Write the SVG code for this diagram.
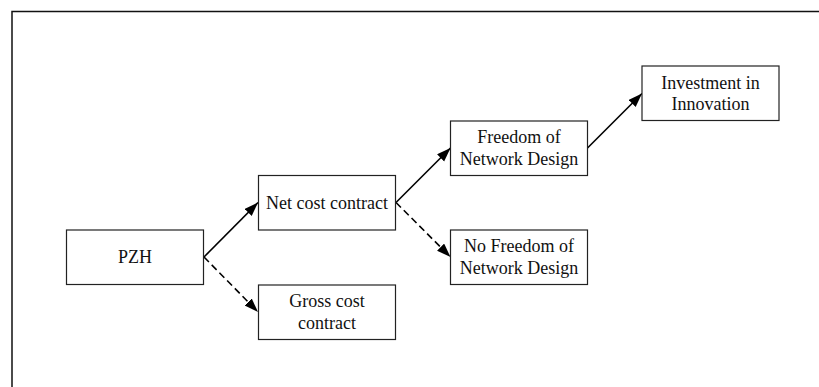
<svg xmlns="http://www.w3.org/2000/svg" width="819" height="387" viewBox="0 0 819 387">
  <style>
    .box { fill: #ffffff; stroke: #222222; stroke-width: 1.2; }
    .lbl { font-family: "Liberation Serif", "Times New Roman", serif; font-size: 18px; fill: #111111; text-anchor: middle; }
    .edge { fill: none; stroke: #000000; stroke-width: 1.6; }
    .dash { stroke-dasharray: 7 4; }
    .frame { fill: none; stroke: #111111; stroke-width: 1.5; }
  </style>
  <defs>
    <marker id="arrow" markerUnits="userSpaceOnUse" markerWidth="15" markerHeight="11" refX="14" refY="5" orient="auto">
      <path d="M0,0 L14,5 L0,10 z" fill="#000000"/>
    </marker>
  </defs>

  <rect width="819" height="387" fill="#ffffff"/>
  <!-- outer frame: top and left edges -->
  <path class="frame" d="M12,387 V11.5 H819"/>

  <g id="connectors">
    <line class="edge" x1="204" y1="257" x2="258" y2="202.5" marker-end="url(#arrow)"/>
    <line class="edge dash" x1="204" y1="257" x2="258" y2="312" marker-end="url(#arrow)"/>
    <line class="edge" x1="396" y1="202.5" x2="450.5" y2="148" marker-end="url(#arrow)"/>
    <line class="edge dash" x1="396" y1="202.5" x2="450.5" y2="257" marker-end="url(#arrow)"/>
    <line class="edge" x1="587.5" y1="148" x2="642" y2="93.5" marker-end="url(#arrow)"/>
  </g>

  <g id="pzh">
    <rect class="box" x="66.5" y="230" width="137" height="54.5"/>
    <text class="lbl" x="135" y="263">PZH</text>
  </g>

  <g id="net-cost">
    <rect class="box" x="258.5" y="175.5" width="137" height="54.5"/>
    <text class="lbl" x="327" y="208.5">Net cost contract</text>
  </g>

  <g id="gross-cost">
    <rect class="box" x="258.5" y="285" width="137" height="54.5"/>
    <text class="lbl" x="327" y="307">Gross cost</text>
    <text class="lbl" x="327" y="328.5">contract</text>
  </g>

  <g id="freedom">
    <rect class="box" x="450.5" y="121" width="137" height="54.5"/>
    <text class="lbl" x="519" y="143.3">Freedom of</text>
    <text class="lbl" x="519" y="164.8">Network Design</text>
  </g>

  <g id="no-freedom">
    <rect class="box" x="450.5" y="230" width="137" height="54.5"/>
    <text class="lbl" x="519" y="252">No Freedom of</text>
    <text class="lbl" x="519" y="273.5">Network Design</text>
  </g>

  <g id="investment">
    <rect class="box" x="642" y="66" width="137" height="54.5"/>
    <text class="lbl" x="710.5" y="88.5">Investment in</text>
    <text class="lbl" x="710.5" y="110">Innovation</text>
  </g>
</svg>
